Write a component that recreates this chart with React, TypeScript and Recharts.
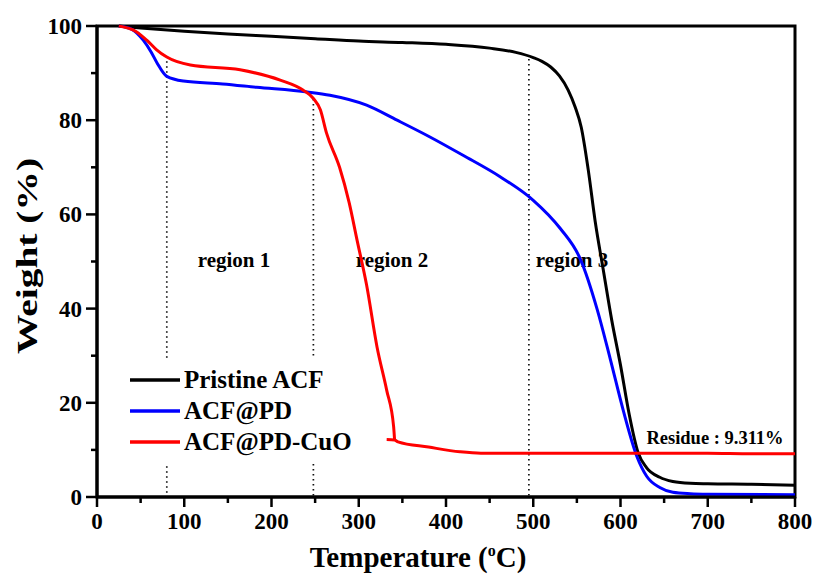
import React from 'react';
import { LineChart, Line, XAxis, YAxis, ReferenceLine, ReferenceArea, Legend } from 'recharts';

// Pristine ACF (black)
const pristineTemp = [25, 50, 100, 150, 200, 250, 300, 350, 400, 450, 480, 500, 510, 520, 530, 540, 548, 555, 563, 571, 580, 590, 600, 610, 620, 630, 645, 660, 680, 700, 750, 800];
const pristineWeight = [100, 99.6, 98.9, 98.3, 97.8, 97.3, 96.8, 96.5, 96.1, 95.3, 94.4, 93.3, 92.5, 91.3, 89.4, 86.4, 82.8, 78.5, 69.5, 58.5, 48.5, 37.5, 28, 17.5, 9.5, 6.2, 4.2, 3.3, 2.9, 2.8, 2.7, 2.5];

// ACF@PD (blue)
const pdTemp = [25, 40, 53, 62, 69, 80, 99, 144, 183, 241, 267, 309, 344, 380, 420, 462, 500, 531, 554, 573, 588, 603, 619, 630, 645, 660, 680, 700, 800];
const pdWeight = [100, 99.3, 97, 94.5, 92.1, 89.3, 88.3, 87.7, 87, 86, 85.3, 83.2, 80, 76.6, 72.5, 68, 63, 57, 50.5, 40, 29.5, 18.5, 8.5, 4.4, 2, 1, 0.7, 0.6, 0.5];

// ACF@PD-CuO (red): main decomposition, then the residue tail (which starts slightly back in temperature)
const cuoTemp = [25, 45, 57, 68, 80, 107, 164, 210, 236, 248, 256, 263, 278, 289, 298, 309, 321, 332, 340, 341];
const cuoWeight = [100, 98.8, 97, 95, 93.4, 91.7, 90.7, 88.5, 86.4, 84.6, 82.2, 77.3, 70, 62.5, 54.6, 45, 31.8, 22.7, 14.9, 12.3];
const cuoTailTemp = [332, 341, 345, 380, 416, 440, 500, 600, 700, 750, 800];
const cuoTailWeight = [12.2, 12.1, 11.7, 10.6, 9.6, 9.3, 9.3, 9.3, 9.3, 9.2, 9.2];

const xTicks = [0, 50, 100, 150, 200, 250, 300, 350, 400, 450, 500, 550, 600, 650, 700, 750, 800];
const yTicks = [0, 10, 20, 30, 40, 50, 60, 70, 80, 90, 100];

// region boundaries: [temperature, top of dotted line]
const regionBounds = [[80, 92.5], [248, 84.5], [495, 93]];
const regionNames = ['region 1', 'region 2', 'region 3'];

const seriesNames = ['Pristine ACF', 'ACF@PD', 'ACF@PD-CuO'];
const seriesColors = ['#000000', '#0000ff', '#ff0000'];

const toPoints = (t: number[], w: number[]) => t.map((v, i) => ({ t: v, w: w[i] }));

const FONT = '"Liberation Serif", "Times New Roman", serif';

const XTick = (props: any) => {
  const { x, y, payload } = props;
  const major = payload.value % 100 === 0;
  return (
    <g>
      <line x1={x} x2={x} y1={y} y2={y + (major ? 10 : 6)} stroke="#000" strokeWidth={2.5} />
      {major && (
        <text x={x} y={y + 32} textAnchor="middle" fontSize={23} fontWeight="bold" fontFamily={FONT} fill="#000">
          {payload.value}
        </text>
      )}
    </g>
  );
};

const YTick = (props: any) => {
  const { x, y, payload } = props;
  const major = payload.value % 20 === 0;
  return (
    <g>
      <line x1={x} x2={x - (major ? 11 : 6)} y1={y} y2={y} stroke="#000" strokeWidth={2.5} />
      {major && (
        <text x={x - 15} y={y + 8} textAnchor="end" fontSize={23} fontWeight="bold" fontFamily={FONT} fill="#000">
          {payload.value}
        </text>
      )}
    </g>
  );
};

// fixed order, same as the reference
const renderLegend = () => (
  <div style={{ background: '#fff', padding: '6px 0' }}>
    {seriesNames.map((name, i) => (
      <div key={name} style={{ display: 'flex', alignItems: 'center', height: 31 }}>
        <svg width={54} height={10}>
          <line x1={2} x2={52} y1={5} y2={5} stroke={seriesColors[i]} strokeWidth={3.5} />
        </svg>
        <span style={{ fontFamily: FONT, fontWeight: 'bold', fontSize: 25, color: '#000', marginLeft: 2 }}>
          {name}
        </span>
      </div>
    ))}
  </div>
);

export default function App() {
  return (
    <div style={{ position: 'absolute', left: 0, top: 0, width: 815, height: 575, background: '#fff' }}>
      <LineChart width={815} height={575} margin={{ top: 26, right: 20, bottom: 18, left: 37 }}>
        <XAxis
          type="number"
          dataKey="t"
          domain={[0, 800]}
          ticks={xTicks}
          interval={0}
          height={60}
          tickSize={0}
          tickMargin={0}
          tickLine={false}
          tick={<XTick />}
          axisLine={{ stroke: '#000', strokeWidth: 3 }}
          allowDuplicatedCategory={false}
        />
        <YAxis
          type="number"
          domain={[0, 100]}
          ticks={yTicks}
          interval={0}
          width={60}
          tickSize={0}
          tickMargin={0}
          tickLine={false}
          tick={<YTick />}
          axisLine={{ stroke: '#000', strokeWidth: 3 }}
        />
        <ReferenceArea x1={0} x2={800} y1={0} y2={100} fill="none" stroke="#000" strokeWidth={3} />
        {regionBounds.map(([t, top]) => (
          <ReferenceLine
            key={t}
            segment={[{ x: t, y: top }, { x: t, y: 0 }]}
            stroke="#111"
            strokeWidth={1.7}
            strokeDasharray="1.5 3.5"
          />
        ))}
        <Line
          data={toPoints(pristineTemp, pristineWeight)}
          dataKey="w"
          name={seriesNames[0]}
          type="monotone"
          stroke={seriesColors[0]}
          strokeWidth={3}
          dot={false}
          isAnimationActive={false}
        />
        <Line
          data={toPoints(pdTemp, pdWeight)}
          dataKey="w"
          name={seriesNames[1]}
          type="monotone"
          stroke={seriesColors[1]}
          strokeWidth={3}
          dot={false}
          isAnimationActive={false}
        />
        <Line
          data={toPoints(cuoTemp, cuoWeight)}
          dataKey="w"
          name={seriesNames[2]}
          type="monotone"
          stroke={seriesColors[2]}
          strokeWidth={3}
          dot={false}
          isAnimationActive={false}
        />
        <Line
          data={toPoints(cuoTailTemp, cuoTailWeight)}
          dataKey="w"
          name="ACF@PD-CuO tail"
          legendType="none"
          type="monotone"
          stroke={seriesColors[2]}
          strokeWidth={3}
          dot={false}
          isAnimationActive={false}
        />
        <Legend
          layout="horizontal"
          verticalAlign="middle"
          align="center"
          content={renderLegend}
          wrapperStyle={{ position: 'absolute', left: 128, top: 358, width: 235 }}
        />
        <text x={234} y={267} textAnchor="middle" fontSize={21} fontWeight="bold" fontFamily={FONT}>{regionNames[0]}</text>
        <text x={392} y={267} textAnchor="middle" fontSize={21} fontWeight="bold" fontFamily={FONT}>{regionNames[1]}</text>
        <text x={572} y={267} textAnchor="middle" fontSize={21} fontWeight="bold" fontFamily={FONT}>{regionNames[2]}</text>
        <text x={715} y={444} textAnchor="middle" fontSize={18.5} fontWeight="bold" fontFamily={FONT}>Residue : 9.311%</text>
        <text x={418} y={567} textAnchor="middle" fontSize={29} fontWeight="bold" fontFamily={FONT}>
          Temperature (<tspan dy={-11} fontSize={16}>o</tspan><tspan dy={11}>C)</tspan>
        </text>
        <text
          x={0}
          y={0}
          transform="translate(37, 256) rotate(-90) scale(1.36, 1)"
          textAnchor="middle"
          fontSize={29}
          fontWeight="bold"
          fontFamily={FONT}
        >
          Weight (%)
        </text>
      </LineChart>
    </div>
  );
}
